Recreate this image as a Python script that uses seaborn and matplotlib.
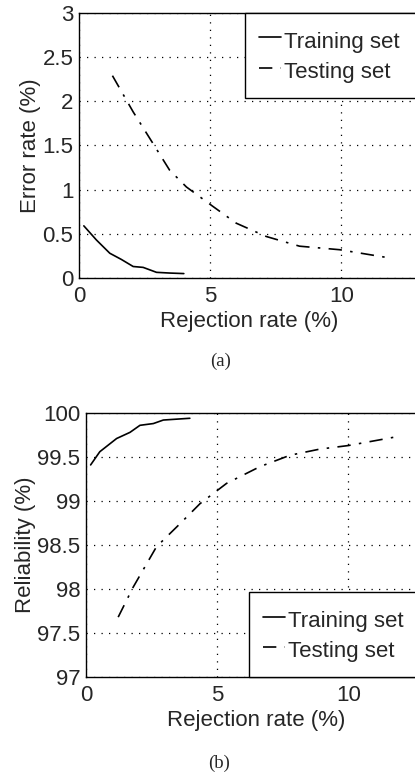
import numpy as np
import pandas as pd
import matplotlib
matplotlib.use("Agg")
import matplotlib.pyplot as plt
import seaborn as sns

# error rate vs rejection rate (panel a)
err_train_x = [0.19, 0.67, 1.18, 1.62, 2.07, 2.45, 2.96, 3.46, 4.0]
err_train_y = [0.59, 0.43, 0.28, 0.21, 0.13, 0.12, 0.064, 0.056, 0.05]
err_test_x = [1.28, 2.07, 2.83, 3.46, 4.1, 5.11, 6.0, 7.14, 8.41, 9.94, 11.78]
err_test_y = [2.29, 1.88, 1.52, 1.22, 1.03, 0.81, 0.62, 0.47, 0.36, 0.32, 0.23]

# reliability vs rejection rate (panel b)
rel_train_x = [0.18, 0.53, 1.17, 1.68, 2.06, 2.57, 2.95, 3.96]
rel_train_y = [99.41, 99.56, 99.71, 99.78, 99.86, 99.88, 99.92, 99.94]
rel_test_x = [1.23, 1.8, 2.69, 3.58, 4.35, 5.36, 6.63, 7.78, 8.92, 10.0, 11.84]
rel_test_y = [97.68, 98.02, 98.48, 98.74, 98.97, 99.2, 99.39, 99.52, 99.59, 99.63, 99.73]

labels = ["Training set", "Testing set"]
xticks = [0, 5, 10]

sns.set_style("white")
plt.rcParams["font.family"] = ["Liberation Sans", "DejaVu Sans"]
plt.rcParams["font.size"] = 16

fig = plt.figure(figsize=(4.15, 7.75), dpi=100)
ax1 = fig.add_axes([0.190, 0.6413, 0.822, 0.342])
ax2 = fig.add_axes([0.207, 0.1265, 0.822, 0.3406])

dashdot = (0, (8, 5, 1.5, 5))


def panel(ax, trx, tr_y, tex, te_y, ylim, yticks, ylabel, legend_kw):
    df_tr = pd.DataFrame({"x": trx, "y": tr_y})
    df_te = pd.DataFrame({"x": tex, "y": te_y})
    sns.lineplot(data=df_tr, x="x", y="y", ax=ax, color="black", lw=1.2, label=labels[0])
    sns.lineplot(data=df_te, x="x", y="y", ax=ax, color="black", lw=1.2,
                 linestyle=dashdot, label=labels[1])
    ax.set_xlim(0, 13)
    ax.set_ylim(*ylim)
    ax.set_xticks(xticks)
    ax.set_yticks(yticks)
    ax.set_yticklabels([f"{t:g}" for t in yticks])
    ax.grid(True, color="black", linestyle=(0, (1, 5)), lw=0.9)
    ax.tick_params(direction="in", length=4, width=0.8, pad=4, labelsize=16)
    ax.tick_params(axis="x", pad=6)
    for s in ax.spines.values():
        s.set_color("black")
        s.set_linewidth(1.0)
    ax.set_xlabel("Rejection rate (%)", fontsize=16, labelpad=3)
    ax.set_ylabel(ylabel, fontsize=16, labelpad=1)
    leg = ax.legend(mode="expand", handlelength=0.95, handletextpad=0.15,
                    handleheight=1.4, borderaxespad=0, fancybox=False, framealpha=1,
                    fontsize=16, labelspacing=0.2, borderpad=0.65, **legend_kw)
    leg.get_frame().set_edgecolor("black")
    leg.get_frame().set_linewidth(1.0)


panel(ax1, err_train_x, err_train_y, err_test_x, err_test_y, (0, 3),
      [0, 0.5, 1, 1.5, 2, 2.5, 3], "Error rate (%)",
      dict(loc="upper left", bbox_to_anchor=(0.487, 0.0, 0.6, 1.0)))
panel(ax2, rel_train_x, rel_train_y, rel_test_x, rel_test_y, (97, 100),
      [97, 97.5, 98, 98.5, 99, 99.5, 100], "Reliability (%)",
      dict(loc="lower left", bbox_to_anchor=(0.478, 0.0, 0.6, 1.0)))

fig.text(221 / 415, 1 - 361 / 775, "(a)", ha="center", va="center",
         family=["Liberation Serif"], fontsize=13.5)
fig.text(219 / 415, 1 - 763 / 775, "(b)", ha="center", va="center",
         family=["Liberation Serif"], fontsize=13.5)

fig.savefig("out.png", dpi=100)
